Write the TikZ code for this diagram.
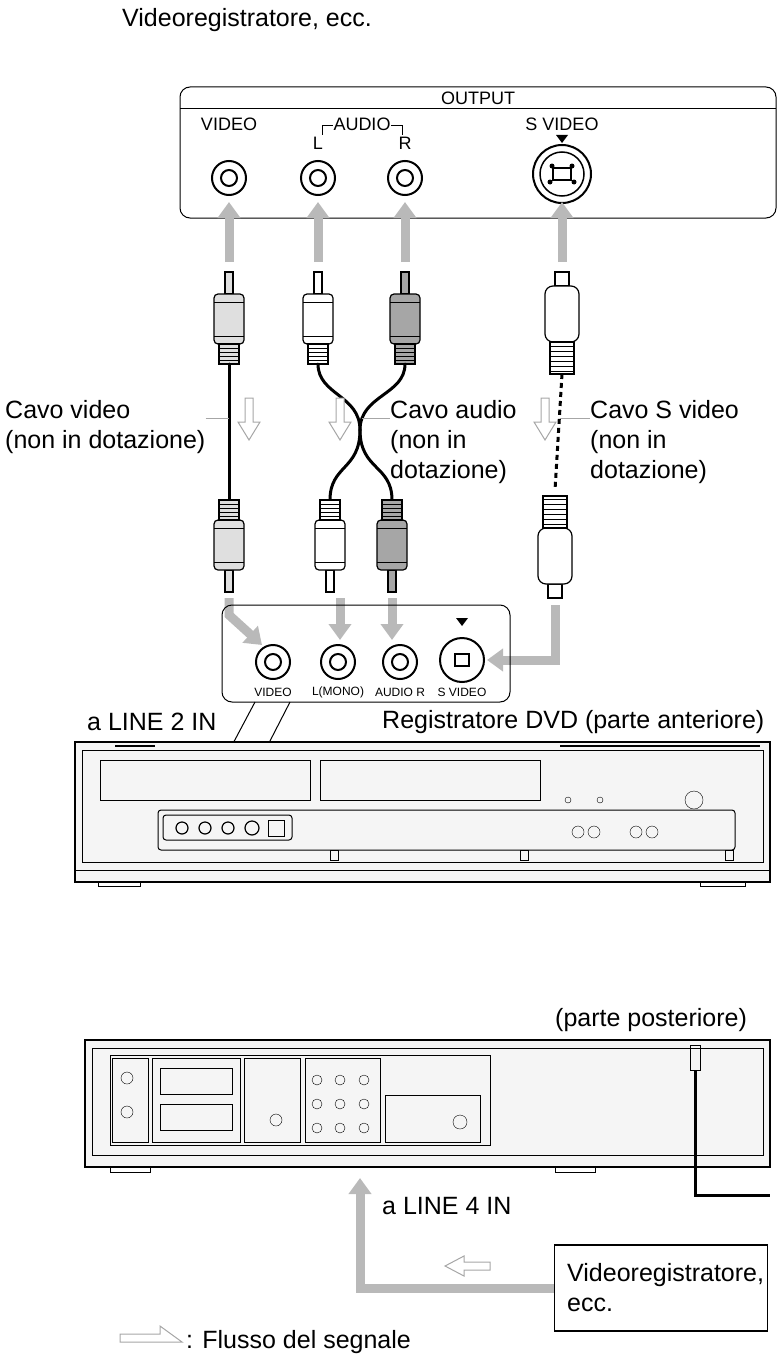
\documentclass[tikz,border=0pt]{standalone}
\usepackage{fontspec}
\setmainfont{Liberation Sans}
\usetikzlibrary{arrows.meta,positioning}
\tikzset{
  flow/.style={draw=gray!55,line width=9pt,-{Triangle[length=16pt,width=22pt]}},
  hollow/.style={draw=gray!70,fill=white,line width=1pt},
  lbl/.style={font=\fontsize{25}{30}\selectfont,align=left,inner sep=0pt},
  tiny/.style={font=\fontsize{12}{14}\selectfont,inner sep=0pt},
  small/.style={font=\fontsize{18}{21}\selectfont,inner sep=0pt},
  cable/.style={line width=3pt,line cap=round},
  pics/rca/.style={code={
    \fill[#1,draw=black,line width=1.2pt] (-4,0) rectangle (4,22);
    \fill[#1,draw=black,line width=1.2pt,rounded corners=4pt] (-15,22) rectangle (15,72);
    \draw[line width=1pt] (-15,30) -- (15,30) (-15,64) -- (15,64);
    \fill[#1,draw=black,line width=1.2pt] (-10,72) rectangle (10,92);
    \foreach \k in {76,80,...,88} \draw (-10,\k) -- (10,\k);
  }},
  pics/svid/.style={code={
    \fill[white,draw=black,line width=1.2pt] (-7,0) rectangle (7,14);
    \fill[white,draw=black,line width=1.2pt,rounded corners=8pt] (-17,14) rectangle (17,70);
    \fill[white,draw=black,line width=1.2pt] (-12,70) rectangle (12,102);
    \foreach \k in {74,79,...,99} \draw (-12,\k) -- (12,\k);
  }},
  jack/.style={circle,draw=black,line width=2pt,minimum size=34pt,inner sep=0pt,
    path picture={\draw[line width=2pt] (path picture bounding box.center) circle (8pt);}},
}
\begin{document}
\begin{tikzpicture}[x=1pt,y=-1pt]
\useasboundingbox (0,0) rectangle (778,1362);

\node[lbl,anchor=west] (title) at (122,20) {Videoregistratore, ecc.};

% output panel of the source deck
\draw[line width=1pt,rounded corners=10pt] (180,87) rectangle (776,218);
\draw (180,108) -- (776,108);
\node[small] (outlbl) at (478,98) {OUTPUT};
\node[small] (vlbl) at (229,124) {VIDEO};
\node[small] (alab) at (362,124) {AUDIO};
\draw (322,135) -- (322,125) -- (333,125) (391,125) -- (402,125) -- (402,135);
\node[small] (llbl) at (318,143) {L};
\node[small] (rlbl) at (405,143) {R};
\node[small] (svlbl) at (562,124) {S VIDEO};
\fill (556,135) -- (568,135) -- (562,143) -- cycle;
\node[jack] (jv) at (229,178) {};
\node[jack] (jl) at (318,178) {};
\node[jack] (jr) at (405,178) {};
\node[circle,draw,line width=2pt,minimum size=58pt] (js) at (562,174) {};
\node[circle,draw,line width=1.5pt,minimum size=44pt] at (562,174) {};
\draw[line width=1.2pt] (553,168) rectangle (571,180);
\foreach \dx/\dy in {-10/-8,10/-8,-12/8,12/8} \fill (562+\dx,174+\dy) circle (2.5pt);

% arrows into the output jacks
\foreach \x in {229,318,405,562} \draw[flow] (\x,262) -- (\x,202);

% upper plugs
\pic at (229,272) {rca=gray!25};
\pic at (318,272) {rca=white};
\pic at (405,272) {rca=gray!70};
\pic at (562,272) {svid};

% cables
\draw[cable] (229,364) -- (229,500);
\draw[cable] (318,364) .. controls (318,395) and (360,395) .. (360,430);
\draw[cable] (405,364) .. controls (405,395) and (360,395) .. (360,430);
\draw[cable] (360,430) .. controls (360,470) and (330,465) .. (330,500);
\draw[cable] (360,430) .. controls (360,470) and (392,465) .. (392,500);
\draw[line width=3pt,dash pattern=on 5pt off 4pt] (562,374) -- (555,490);

% lower plugs
\pic[yscale=-1] at (229,592) {rca=gray!25};
\pic[yscale=-1] at (330,592) {rca=white};
\pic[yscale=-1] at (392,592) {rca=gray!70};
\pic[yscale=-1] at (555,598) {svid};

% hollow flow arrows
\foreach \x/\y in {249/398,340/398,545/398}
  \draw[hollow] (\x-4,\y) -- (\x+4,\y) -- (\x+4,\y+24) -- (\x+11,\y+24) -- (\x,\y+42) -- (\x-11,\y+24) -- (\x-4,\y+24) -- cycle;

% cable labels
\node[lbl,anchor=north west] (cv) at (5,400) {Cavo video\\(non in dotazione)};
\draw[gray!70] (cv.east |- 0,418) -- (229,418);
\node[lbl,anchor=north west] (ca) at (390,400) {Cavo audio\\(non in\\dotazione)};
\draw[gray!70] (ca.west |- 0,418) -- (362,418);
\node[lbl,anchor=north west] (cs) at (590,400) {Cavo S video\\(non in\\dotazione)};
\draw[gray!70] (cs.west |- 0,418) -- (560,418);

% arrows into the front jacks
\draw[flow] (229,598) -- (229,615) -- (262,645);
\draw[flow] (340,598) -- (340,640);
\draw[flow] (392,598) -- (392,640);
\draw[flow] (555,605) -- (555,660) -- (487,660);

% front jack callout
\draw[line width=1pt,rounded corners=10pt] (222,605) rectangle (510,702);
\node[jack] (fv) at (273,662) {};
\node[jack] (fl) at (338,662) {};
\node[jack] (fr) at (400,662) {};
\node[circle,draw,line width=2pt,minimum size=44pt] (fs) at (462,660) {};
\draw[line width=1.2pt] (455,654) rectangle (469,666);
\fill (456,618) -- (468,618) -- (462,626) -- cycle;
\node[tiny] at (273,692) {VIDEO};
\node[tiny] at (338,692) {L(MONO)};
\node[tiny] at (400,692) {AUDIO R};
\node[tiny] at (462,692) {S VIDEO};
\draw[line width=1pt] (255,702) -- (195,815) (290,702) -- (232,815);

\node[lbl,anchor=west] (l2) at (87,722) {a LINE 2 IN};
\node[lbl,anchor=west] (front) at (382,722) {Registratore DVD (parte anteriore)};

% DVD recorder, front
\draw[line width=1.2pt,fill=gray!8] (75,742) rectangle (770,882);
\draw[line width=1pt] (82,750) rectangle (763,862);
\draw (75,870) -- (770,870);
\draw (100,760) rectangle (310,800) (320,760) rectangle (540,800);
\foreach \x in {115,560,600,640,680,720} \draw[line width=2pt] (\x,746) -- (\x+40,746);
\draw (568,800) circle (3pt) (600,800) circle (3pt) (694,800) circle (9pt);
\draw[line width=1pt,rounded corners=3pt] (158,810) rectangle (735,850);
\draw[line width=1pt,rounded corners=3pt] (163,815) rectangle (292,840);
\foreach \x in {182,205,228} \draw[line width=1.2pt] (\x,828) circle (6pt);
\draw[line width=1.2pt] (252,828) circle (7pt);
\draw (268,820) rectangle (284,836);
\draw (578,832) circle (6pt) (594,832) circle (6pt) (636,832) circle (6pt) (652,832) circle (6pt);
\foreach \x in {330,520,725} \draw (\x,850) rectangle (\x+8,860);
\draw (98,882) -- (98,886) -- (140,886) -- (140,882) (700,882) -- (700,886) -- (745,886) -- (745,882);

% DVD recorder, rear
\node[lbl,anchor=west] (rear) at (555,1020) {(parte posteriore)};
\draw[line width=1.2pt,fill=gray!8] (85,1040) rectangle (770,1167);
\draw[line width=1pt] (92,1048) rectangle (763,1155);
\draw (110,1055) rectangle (490,1145);
\draw (112,1058) rectangle (148,1142) (152,1058) rectangle (240,1142);
\draw (160,1068) rectangle (232,1094) (160,1104) rectangle (232,1130);
\draw (244,1058) rectangle (300,1142) (305,1058) rectangle (380,1142) (385,1095) rectangle (480,1142);
\foreach \x in {317,340,364} \foreach \y in {1080,1104,1128} \draw (\x,\y) circle (5pt);
\draw (127,1078) circle (6pt) (127,1112) circle (6pt) (276,1120) circle (6pt) (460,1122) circle (7pt);
\foreach \x in {110,555} \draw (\x,1167) -- (\x,1172) -- (\x+40,1172) -- (\x+40,1167);
\draw[line width=1pt] (690,1045) rectangle (700,1070);
\draw[line width=3pt] (695,1070) -- (695,1195) -- (770,1195);

% arrow into the rear input
\node[draw,line width=1.2pt,minimum width=213pt,minimum height=86pt] (vcr) at (661,1288) {};
\node[lbl,anchor=west] at (567,1288) {Videoregistratore,\\ecc.};
\draw[flow] (vcr.west) -- (360,1288) -- (360,1178);
\node[lbl,anchor=west] (l4) at (382,1206) {a LINE 4 IN};
\draw[hollow] (490,1262) -- (490,1270) -- (464,1270) -- (464,1276) -- (445,1266) -- (464,1256) -- (464,1262) -- cycle;

% legend
\draw[hollow] (120,1334) -- (160,1334) -- (160,1326) -- (182,1342) -- (120,1342) -- cycle;
\node[lbl,anchor=west] (leg) at (186,1342) {: Flusso del segnale};
\end{tikzpicture}
\end{document}
